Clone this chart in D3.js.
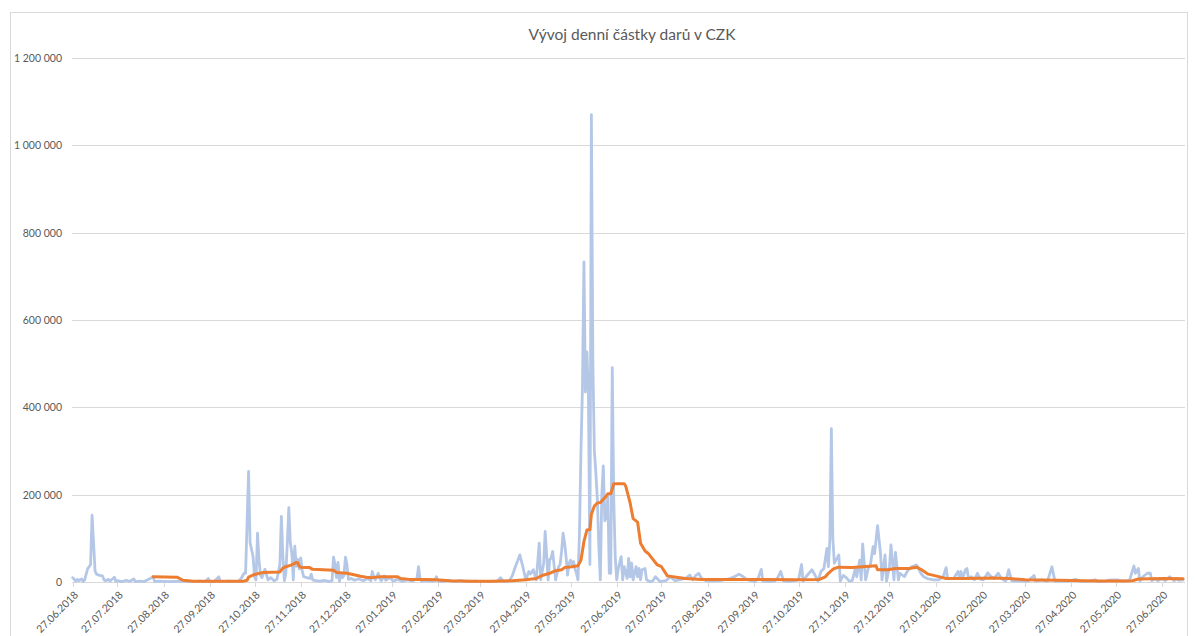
<!DOCTYPE html>
<html><head><meta charset="utf-8">
<script src="https://cdn.jsdelivr.net/npm/d3@7"></script>
<style>body{margin:0;background:#fff}svg{display:block}</style>
</head><body>
<svg id="chart" width="1195" height="636"></svg>
<script>
const chartTitle = "Vývoj denní částky darů v CZK";
const startDate = "27.06.2018";
const endDate = "12.07.2020";
const xTickLabels = ["27.06.2018","27.07.2018","27.08.2018","27.09.2018","27.10.2018","27.11.2018","27.12.2018",
  "27.01.2019","27.02.2019","27.03.2019","27.04.2019","27.05.2019","27.06.2019","27.07.2019","27.08.2019",
  "27.09.2019","27.10.2019","27.11.2019","27.12.2019","27.01.2020","27.02.2020","27.03.2020","27.04.2020",
  "27.05.2020","27.06.2020"];
const yTickValues = [0, 200000, 400000, 600000, 800000, 1000000, 1200000];

// daily amount (days after 27.06.2018)
const dailyDays = [0,2,3,4,6,7,8,10,12,13,15,16,18,20,21,22,24,25,26,28,29,30,33,36,38,41,42,45,48,52,54,55,58,65,72,79,85,89,91,92,95,98,99,105,111,113,115,116,118,119,121,122,123,124,125,126,127,129,131,133,135,137,139,140,141,142,143,144,145,146,147,148,149,150,151,152,153,154,155,157,159,160,161,163,166,169,172,174,175,176,177,178,179,180,181,182,183,184,185,187,189,192,195,198,200,201,202,203,205,206,207,209,210,213,215,218,221,225,228,231,232,233,234,238,241,243,244,245,248,252,256,260,265,270,275,280,285,287,289,291,293,295,297,300,302,304,306,307,309,311,313,314,316,317,319,320,321,322,324,325,326,327,328,329,330,331,332,333,334,335,336,337,338,339,340,341,342,343,344,345,346,347,348,349,350,351,352,353,354,355,356,357,358,359,360,361,362,363,364,365,366,368,369,370,372,373,374,375,376,378,379,380,381,382,384,385,387,389,391,394,398,401,404,407,411,414,416,418,420,422,425,430,434,437,441,443,445,447,450,452,455,458,460,462,463,467,471,473,475,477,481,484,487,489,490,492,494,496,498,500,502,504,506,507,508,509,510,511,512,513,514,515,517,519,521,523,525,526,528,529,530,532,534,535,537,538,540,542,543,545,546,548,549,551,552,554,555,558,560,563,566,567,569,571,574,578,581,584,586,587,591,594,595,596,597,599,600,601,603,605,607,609,611,614,615,618,621,623,626,628,630,632,637,641,645,646,650,654,657,659,664,668,673,676,682,686,688,692,695,699,702,705,709,712,713,715,716,718,721,723,724,726,728,731,733,736,739,741,742,745];
const dailyAmounts = [10000,2000,6000,3000,7000,1000,5000,30000,40000,153000,25000,18000,15000,14000,5000,3000,6000,2000,5000,11000,1000,3000,1000,4000,1000,7000,1000,2000,1000,8000,12000,1000,2000,1000,2000,1000,2000,1000,8000,1000,1000,12000,1000,2000,1000,8000,20000,20000,253000,90000,59000,12000,5000,112000,50000,15000,10000,29000,5000,10000,3000,6000,40000,150000,60000,3000,20000,90000,170000,90000,67000,5000,82000,36000,52000,30000,55000,25000,12000,10000,8000,18000,5000,3000,2000,4000,1000,3000,57000,40000,10000,45000,2000,20000,10000,15000,57000,40000,6000,8000,4000,7000,3000,8000,3000,24000,12000,5000,20000,8000,3000,14000,4000,10000,2000,6000,2000,5000,2000,8000,35000,8000,2000,3000,2000,3000,12000,2000,1000,4000,1000,3000,1000,2000,1000,1000,2000,10000,1000,1000,2000,15000,35000,62000,35000,5000,24000,18000,28000,5000,89000,5000,43000,116000,5000,51000,55000,70000,5000,20000,35000,40000,70000,112000,90000,58000,16000,43000,50000,40000,47000,30000,20000,5000,112000,300000,443000,733000,435000,527000,435000,40000,1070000,500000,300000,250000,190000,80000,5000,200000,266000,140000,150000,196000,20000,20000,491000,190000,58000,5000,30000,58000,5000,35000,8000,54000,12000,43000,5000,35000,12000,31000,5000,28000,31000,5000,1000,2000,12000,1000,3000,12000,3000,5000,8000,16000,5000,15000,20000,8000,3000,2000,3000,5000,8000,11000,14000,18000,12000,6000,3000,1000,10000,29000,2000,1000,2000,10000,24000,2000,1000,3000,5000,40000,2000,12000,20000,28000,16000,2000,24000,31000,77000,35000,97000,351000,100000,43000,50000,55000,62000,2000,15000,10000,2000,3000,30000,12000,50000,5000,87000,5000,35000,35000,81000,65000,129000,65000,5000,62000,2000,35000,85000,5000,68000,5000,20000,12000,25000,35000,39000,35000,20000,12000,7000,5000,5000,12000,33000,8000,8000,24000,8000,24000,8000,28000,31000,8000,12000,5000,20000,6000,5000,21000,16000,8000,20000,8000,2000,28000,3000,2000,2000,2000,15000,2000,5000,2000,35000,2000,2000,2000,6000,1000,2000,5000,1000,1000,4000,5000,4000,2000,3000,37000,20000,31000,2000,12000,20000,20000,3000,8000,3000,8000,3000,12000,3000,8000,4000,5000];

// moving average (days after 27.06.2018)
const avgDays = [54,70,74,81,114,117,118,121,124,128,139,141,143,146,148,150,151,152,153,157,159,161,175,177,180,184,188,193,197,201,206,213,218,220,226,237,244,253,268,282,295,304,311,315,320,324,328,330,335,339,341,343,345,347,348,350,352,354,357,359,361,363,370,371,374,376,379,381,384,386,389,392,395,399,405,411,422,454,487,501,505,507,510,511,514,523,530,539,540,547,552,561,566,569,574,579,586,599,617,628,639,661,688,706,711,715,733,745];
const avgAmounts = [12000,11000,4000,1500,1500,4000,11000,16000,19000,22000,23000,32000,35000,38000,41000,45000,44000,36000,34000,33000,33000,29000,27000,22000,21000,20000,17000,13000,11000,10000,12000,12000,12000,8000,6000,6000,5000,3000,1500,1500,3000,5000,8000,15000,20000,26000,28000,33000,35000,37000,50000,93000,119000,120000,155000,174000,181000,182000,193000,202000,202000,225000,225000,220000,181000,145000,137000,89000,71000,66000,53000,40000,35000,14000,11000,8000,6000,6000,5000,6000,12000,20000,29000,31000,34000,33000,35000,37000,28000,28000,31000,31000,34000,29000,18000,14000,8000,8000,9000,8000,5000,4000,2500,2500,3000,7000,8000,7500];

const parse = d3.timeParse("%d.%m.%Y");
const fmtDate = d3.timeFormat("%d.%m.%Y");
const t0 = parse(startDate);
const svg = d3.select("#chart");
const FONT = "Lato, 'Open Sans', sans-serif";
const TXT = "#595959";
const plotLeft = 72.7, plotRight = 1184.6, plotTop = 58, plotBottom = 582;

const x = d3.scaleTime().domain([t0, parse(endDate)]).range([plotLeft, plotRight]);
const y = d3.scaleLinear().domain([0, 1200000]).range([plotBottom, plotTop]);
const numFmt = d3.formatLocale({decimal: ",", thousands: " ", grouping: [3], currency: ["", ""]}).format(",d");

svg.append("rect").attr("x", 10.5).attr("y", 12.5).attr("width", 1177).attr("height", 640)
  .attr("fill", "#fff").attr("stroke", "#d9d9d9").attr("stroke-width", 1);

svg.append("text").attr("x", 632).attr("y", 40).attr("text-anchor", "middle")
  .attr("font-family", FONT).attr("font-size", 15.5).attr("fill", TXT).text(chartTitle);

const gy = svg.append("g").attr("transform", `translate(${plotLeft - 0.7},0)`)
  .call(d3.axisLeft(y).tickValues(yTickValues).tickFormat(numFmt)
    .tickSize(-(plotRight - plotLeft + 1)).tickPadding(10));
gy.select(".domain").remove();
gy.selectAll(".tick line").attr("stroke", "#d9d9d9").attr("stroke-width", 1)
  .attr("shape-rendering", "crispEdges");
gy.selectAll(".tick text").attr("font-family", FONT).attr("font-size", 10.5).attr("fill", TXT);

const tickDates = xTickLabels.map(parse);
const gx = svg.append("g").attr("transform", `translate(0,${plotBottom})`)
  .call(d3.axisBottom(x).tickValues(tickDates).tickFormat(fmtDate).tickSize(5).tickSizeOuter(0));
gx.select(".domain").attr("stroke", "#d9d9d9").attr("shape-rendering", "crispEdges");
gx.selectAll(".tick line").attr("stroke", "#d9d9d9").attr("shape-rendering", "crispEdges");
gx.selectAll(".tick text").attr("font-family", FONT).attr("font-size", 10.5).attr("fill", TXT)
  .attr("text-anchor", "end").attr("x", 0).attr("y", 0).attr("dy", "0.35em")
  .attr("transform", "translate(3,11) rotate(-45)");

const n1 = Math.min(dailyDays.length, dailyAmounts.length);
const daily = dailyDays.slice(0, n1).map((d, i) => ({date: d3.timeDay.offset(t0, d), v: dailyAmounts[i]}));
const n2 = Math.min(avgDays.length, avgAmounts.length);
const avg = avgDays.slice(0, n2).map((d, i) => ({date: d3.timeDay.offset(t0, d), v: avgAmounts[i]}));
const line = d3.line().x(d => x(d.date)).y(d => y(d.v));

svg.append("path").datum(daily).attr("d", line).attr("fill", "none")
  .attr("stroke", "#b4c7e7").attr("stroke-width", 2.8).attr("stroke-linejoin", "round").attr("stroke-linecap", "round");
svg.append("path").datum(avg).attr("d", line).attr("fill", "none")
  .attr("stroke", "#ed7d31").attr("stroke-width", 3).attr("stroke-linejoin", "round").attr("stroke-linecap", "round");
</script>
</body></html>
